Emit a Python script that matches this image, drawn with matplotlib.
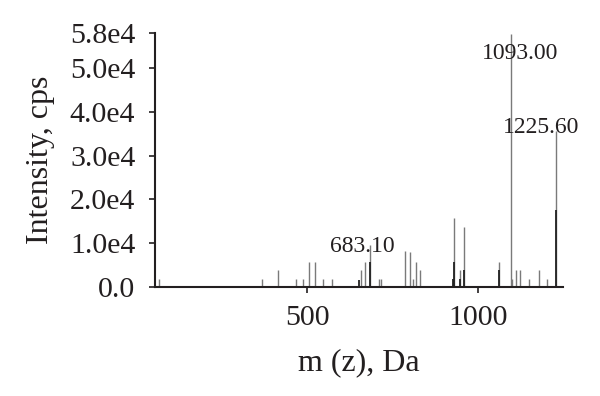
import matplotlib.pyplot as plt

plt.rcParams['font.family'] = ['Liberation Serif', 'DejaVu Serif']

# grey (lighter) peaks
grey_mz = [67, 369, 416, 468, 488, 506, 522, 546, 573, 656, 668, 683, 709, 717,
           786, 799, 809, 817, 828, 930, 947, 959, 1061, 1094, 1097, 1110, 1121,
           1146, 1177, 1200, 1225]
grey_int = [1800, 1800, 3900, 1800, 1800, 5700, 5700, 1800, 1800, 3800, 5700, 9700,
            1800, 1800, 8200, 7900, 1800, 5700, 3800, 15700, 3800, 13700, 5700,
            57700, 1800, 3800, 3800, 1800, 3800, 1800, 35700]

# dark peaks
dark_mz = [651, 683, 925, 930, 947, 959, 1061, 1225]
dark_int = [1700, 5700, 1800, 5700, 1800, 3800, 3800, 17600]

labels = ["683.10", "1093.00", "1225.60"]
label_pos = [(660, 7950), (1122, 52050), (1183, 35230)]

yticks = [0, 1e4, 2e4, 3e4, 4e4, 5e4, 5.8e4]
yticklabels = ["0.0", "1.0e4", "2.0e4", "3.0e4", "4.0e4", "5.0e4", "5.8e4"]

ink = '#231f20'

fig = plt.figure(figsize=(6, 3.96), dpi=100)
ax = fig.add_axes([0.258, 0.275, 0.680, 0.642])

ax.vlines(grey_mz, 0, grey_int, colors='#7a7a7a', linewidth=1.0)
ax.vlines(dark_mz, 0, dark_int, colors='#222222', linewidth=1.3)

for txt, (x, y) in zip(labels, label_pos):
    ax.text(x, y, txt, ha='center', va='baseline', fontsize=17, color=ink)

ax.set_xlim(55.7, 1246)
ax.set_ylim(0, 5.8e4)
ax.set_xticks([500, 1000])
ax.set_yticks(yticks)
ax.set_yticklabels(yticklabels)
ax.tick_params(labelsize=21.5, length=4, width=1.2, colors=ink)
ax.tick_params(axis='y', pad=10)
ax.tick_params(axis='x', pad=9)
ax.spines['top'].set_visible(False)
ax.spines['right'].set_visible(False)
for s in ['left', 'bottom']:
    ax.spines[s].set_linewidth(1.5)
    ax.spines[s].set_color(ink)

ax.set_xlabel("m (z), Da", fontsize=23, color=ink, labelpad=12)
ax.set_ylabel("Intensity, cps", fontsize=23, color=ink, labelpad=11)

fig.savefig("out.png", dpi=100)
